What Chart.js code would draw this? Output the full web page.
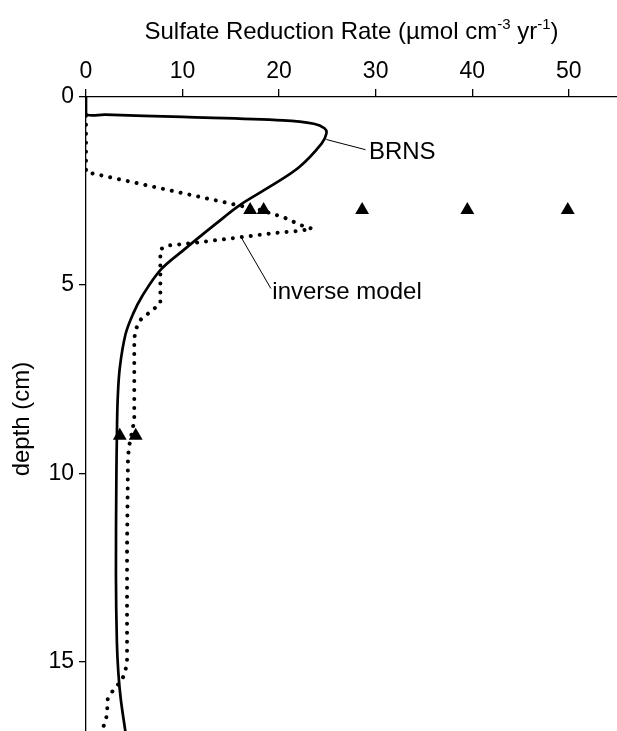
<!DOCTYPE html>
<html>
<head>
<meta charset="utf-8">
<script src="https://cdn.jsdelivr.net/npm/chart.js@4.4.1/dist/chart.umd.min.js"></script>
<style>
  html, body { margin: 0; padding: 0; background: #fff; }
  #wrap { width: 617px; height: 731px; }
</style>
</head>
<body>
<div id="wrap"><canvas id="srrChart" width="617" height="731"></canvas></div>
<script>
// BRNS model: sulfate reduction rate (x) vs depth (y, cm)
const brnsRate  = [0, 0, 2, 10, 20.4, 23.6, 24.7, 24.9, 24.4, 22.1, 19.0, 15.9, 13.5, 10.1, 7.7, 5.8, 4.9, 4.1, 3.5, 3.28, 3.2, 3.15, 3.1, 3.2, 3.35, 3.6, 4.1];
const brnsDepth = [0, 0.45, 0.47, 0.53, 0.62, 0.71, 0.83, 0.97, 1.24, 1.86, 2.39, 2.88, 3.36, 4.07, 4.6, 5.3, 5.75, 6.3, 7.2, 8.05, 9, 10, 12.7, 14.5, 15.3, 16, 16.9];

// inverse model (dotted)
const invRate  = [0, 0, 0.65, 14.9, 18, 20.5, 22.4, 23.4, 22, 19.7, 15.9, 11.1, 8.4, 7.7, 7.7, 6.6, 5.6, 5.15, 5.0, 5.0, 4.45, 4.35, 4.25, 4.25, 4.05, 3.7, 2.8, 2.25, 2.2, 2.1, 1.8, 1.6];
const invDepth = [0.5, 2.0, 2.03, 2.83, 3.0, 3.2, 3.42, 3.5, 3.56, 3.61, 3.73, 3.88, 3.95, 4.05, 5.49, 5.72, 5.93, 6.18, 6.42, 8.6, 9.3, 9.6, 12, 15.0, 15.3, 15.5, 15.77, 16.0, 16.27, 16.5, 16.74, 16.9];

// measured rates (triangles)
const measRate  = [17.0, 18.4, 28.6, 39.5, 49.9, 3.5, 5.15];
const measDepth = [3, 3, 3, 3, 3, 9, 9];

const xTicks = [0, 10, 20, 30, 40, 50];
const yTicks = [0, 5, 10, 15];

const FONT = "'Liberation Sans', Arial, Helvetica, sans-serif";

function toPoints(xs, ys) {
    return xs.map((v, i) => ({ x: v, y: ys[i] }));
}

// Texte, titres et traits de repère dessinés par-dessus
const annotations = {
    id: 'annotations',
    afterDraw(chart) {
        const ctx = chart.ctx;
        const xs = chart.scales.x, ys = chart.scales.y;
        const area = chart.chartArea;
        ctx.save();
        ctx.fillStyle = '#000';
        ctx.strokeStyle = '#000';

        // x title with superscripts
        const parts = [
            ['Sulfate Reduction Rate (\u00b5mol cm', false],
            ['-3', true],
            [' yr', false],
            ['-1', true],
            [')', false]
        ];
        const big = '24px ' + FONT, small = '15px ' + FONT;
        let total = 0;
        parts.forEach(p => { ctx.font = p[1] ? small : big; total += ctx.measureText(p[0]).width; });
        let cx = (area.left + area.right) / 2 - total / 2;
        const base = 39;
        ctx.textBaseline = 'alphabetic';
        ctx.textAlign = 'left';
        parts.forEach(p => {
            ctx.font = p[1] ? small : big;
            ctx.fillText(p[0], cx, p[1] ? base - 10 : base);
            cx += ctx.measureText(p[0]).width;
        });

        // y title
        ctx.save();
        ctx.translate(22, 419);
        ctx.rotate(-Math.PI / 2);
        ctx.font = '24px ' + FONT;
        ctx.textAlign = 'center';
        ctx.textBaseline = 'middle';
        ctx.fillText('depth (cm)', 0, 0);
        ctx.restore();

        // leader lines
        ctx.lineWidth = 1;
        ctx.beginPath();
        ctx.moveTo(xs.getPixelForValue(24.9), ys.getPixelForValue(1.13));
        ctx.lineTo(xs.getPixelForValue(28.95), ys.getPixelForValue(1.4));
        ctx.moveTo(xs.getPixelForValue(16.05), ys.getPixelForValue(3.72));
        ctx.lineTo(xs.getPixelForValue(19.15), ys.getPixelForValue(5.09));
        ctx.stroke();

        ctx.font = '24px ' + FONT;
        ctx.textBaseline = 'middle';
        ctx.textAlign = 'left';
        ctx.fillText('BRNS', xs.getPixelForValue(29.3), ys.getPixelForValue(1.47));
        ctx.fillText('inverse model', xs.getPixelForValue(19.3), ys.getPixelForValue(5.2));
        ctx.restore();
    }
};

new Chart(document.getElementById('srrChart'), {
    type: 'scatter',
    data: {
        datasets: [
            {
                label: 'measured',
                data: toPoints(measRate, measDepth),
                showLine: false,
                pointStyle: 'triangle',
                pointRadius: 8,
                pointBackgroundColor: '#000',
                pointBorderColor: '#000',
                pointBorderWidth: 0,
                clip: false
            },
            {
                label: 'BRNS',
                data: toPoints(brnsRate, brnsDepth),
                showLine: true,
                borderColor: '#000',
                borderWidth: 2.7,
                tension: 0.35,
                pointRadius: 0
            },
            {
                label: 'inverse model',
                data: toPoints(invRate, invDepth),
                showLine: true,
                borderColor: '#000',
                borderWidth: 4,
                borderDash: [0.01, 9],
                borderCapStyle: 'round',
                tension: 0,
                pointRadius: 0
            }
        ]
    },
    options: {
        responsive: false,
        devicePixelRatio: 1,
        animation: false,
        layout: { padding: 0, autoPadding: false },
        plugins: {
            legend: { display: false },
            tooltip: { enabled: false }
        },
        scales: {
            x: {
                type: 'linear',
                position: 'top',
                min: 0,
                max: 55,
                afterBuildTicks: s => { s.ticks = xTicks.map(v => ({ value: v })); },
                afterFit: s => { s.height = 97; s.paddingLeft = 0; s.paddingRight = 0; },
                grid: { display: true, drawOnChartArea: false, drawTicks: true, tickLength: 8, color: '#000', lineWidth: 1.3 },
                border: { display: true, color: '#000', width: 1.3 },
                ticks: { color: '#000', font: { family: FONT, size: 23 }, padding: 4, maxRotation: 0 }
            },
            y: {
                type: 'linear',
                reverse: true,
                min: 0,
                max: 16.85,
                afterBuildTicks: s => { s.ticks = yTicks.map(v => ({ value: v })); },
                afterFit: s => { s.width = 86; s.paddingTop = 0; s.paddingBottom = 0; },
                grid: { display: true, drawOnChartArea: false, drawTicks: true, tickLength: 7, color: '#000', lineWidth: 1.3 },
                border: { display: true, color: '#000', width: 1.3 },
                ticks: { color: '#000', font: { family: FONT, size: 23 }, padding: 5 }
            }
        }
    },
    plugins: [annotations]
});
</script>
</body>
</html>
